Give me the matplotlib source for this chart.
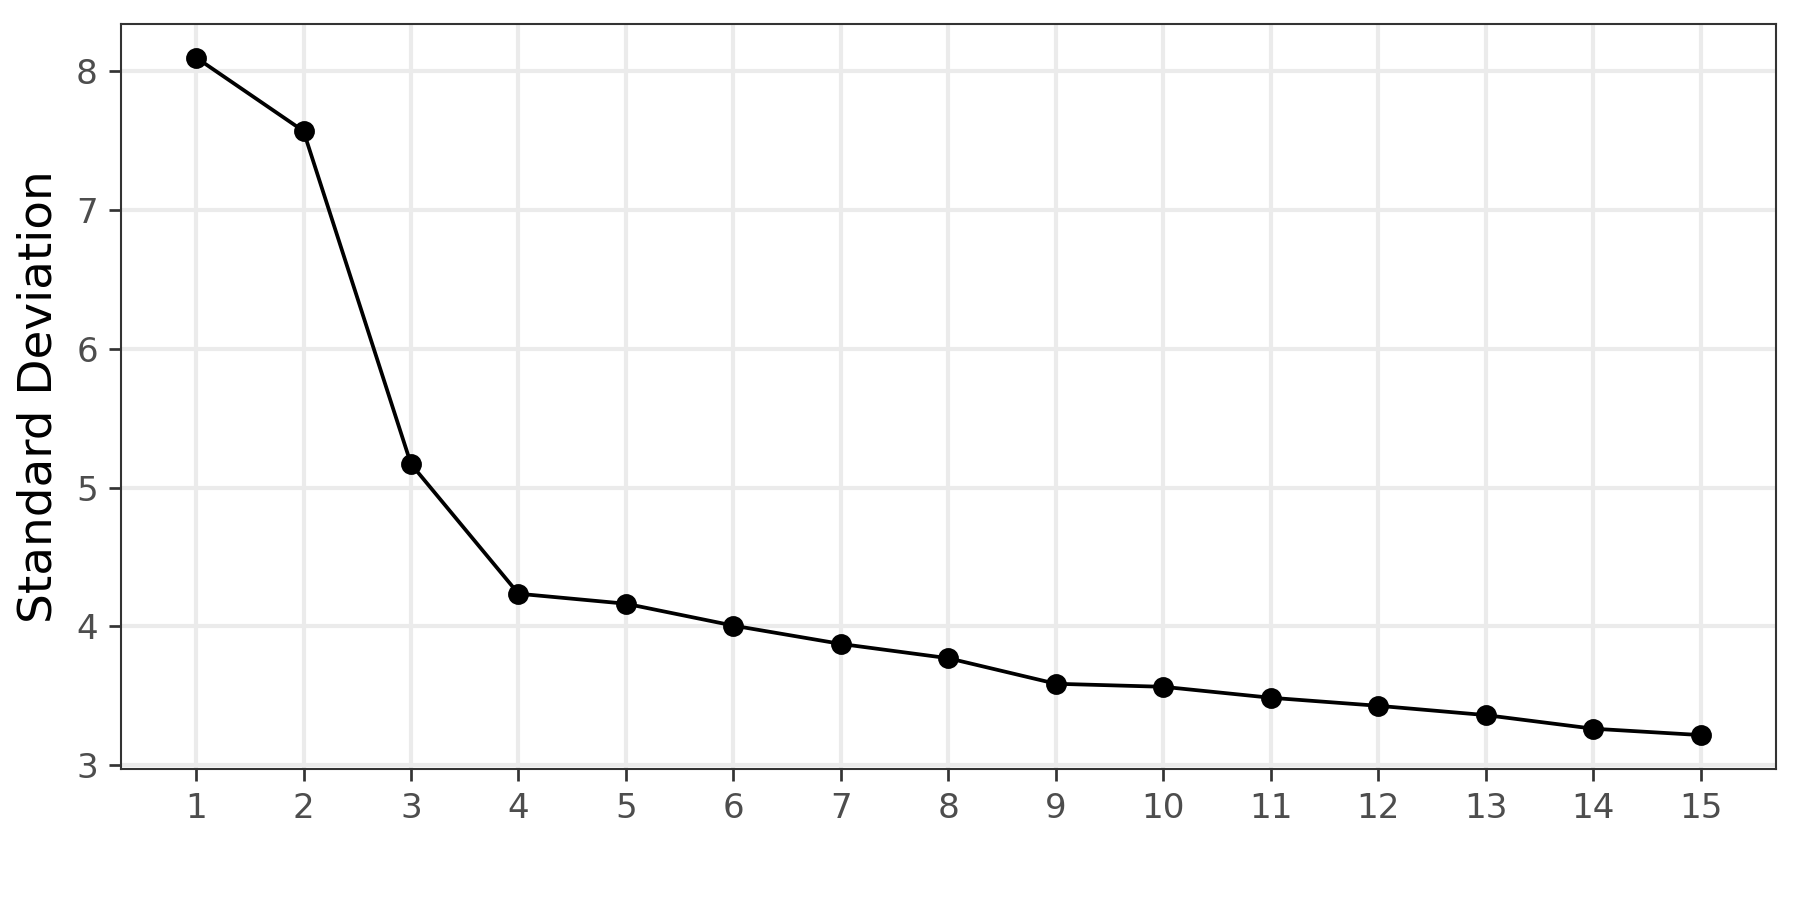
import numpy as np
import matplotlib
matplotlib.use('Agg')
import matplotlib.pyplot as plt

# ── Data ──────────────────────────────────────────────────────────────────────
components = [1, 2, 3, 4, 5, 6, 7, 8, 9, 10, 11, 12, 13, 14, 15]
std_dev = [8.10, 7.57, 5.17, 4.235, 4.163, 4.005, 3.873, 3.770,
           3.586, 3.564, 3.485, 3.427, 3.360, 3.262, 3.216]
y_ticks = [3, 4, 5, 6, 7, 8]

# ── Figure ────────────────────────────────────────────────────────────────────
fig = plt.figure(figsize=(12, 6), dpi=150, facecolor='white')
ax = fig.add_axes([0.0671, 0.1456, 0.9196, 0.8281])

ax.plot(components, std_dev, color='black', linewidth=1.8, zorder=3)
ax.plot(components, std_dev, 'o', color='black', markersize=9, zorder=4)

# ggplot-style 5% expansion
xr = max(components) - min(components)
yr = max(std_dev) - min(std_dev)
ax.set_xlim(min(components) - 0.05 * xr, max(components) + 0.05 * xr)
ax.set_ylim(min(std_dev) - 0.05 * yr, max(std_dev) + 0.05 * yr)

ax.set_xticks(components)
ax.set_yticks(y_ticks)

ax.grid(True, color='#EBEBEB', linewidth=2.0, zorder=0)
ax.set_axisbelow(True)

for spine in ax.spines.values():
    spine.set_edgecolor('#333333')
    spine.set_linewidth(1.0)

ax.tick_params(axis='both', colors='#333333', length=5.6, width=1.3,
               labelsize=16.4, labelcolor='#4D4D4D', pad=5.4)

ax.set_ylabel('Standard Deviation', fontsize=22.5, color='black', labelpad=7)

fig.savefig('out.png', dpi=150, facecolor='white')
